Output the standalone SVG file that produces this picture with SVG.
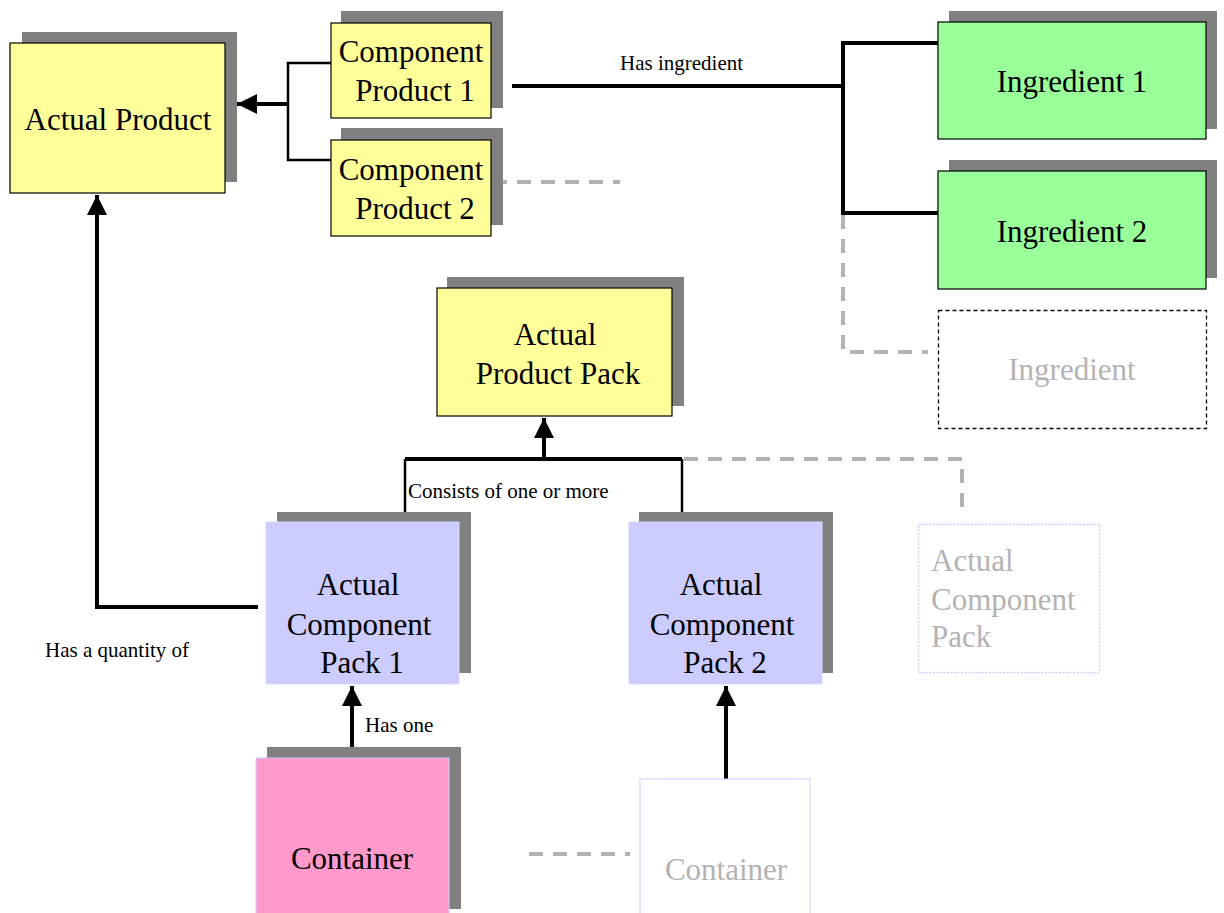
<svg xmlns="http://www.w3.org/2000/svg" width="1224" height="913" viewBox="0 0 1224 913">
  <style>
    .shadow { fill: #808080; }
    .yellow { fill: #ffff99; stroke: #000; stroke-width: 1.2; }
    .green { fill: #99ff99; stroke: #000; stroke-width: 1.2; }
    .lav { fill: #ccccff; stroke: #d8d8ff; stroke-width: 1; }
    .pink { fill: #ff99cc; stroke: #ccccff; stroke-width: 1; }
    .ghost { fill: #fff; stroke: #ccccff; stroke-width: 1; }
    .t { font-family: "Liberation Serif", "Times New Roman", serif; font-size: 31px; fill: #000; text-anchor: middle; }
    .ts { font-family: "Liberation Serif", "Times New Roman", serif; font-size: 31px; fill: #b3b3b3; text-anchor: start; }
    .tg { fill: #b3b3b3; }
    .lbl { font-family: "Liberation Serif", "Times New Roman", serif; font-size: 21px; fill: #000; }
    .thick { fill: none; stroke: #000; stroke-width: 4; }
    .thin { fill: none; stroke: #000; stroke-width: 2.5; }
    .dash { fill: none; stroke: #b3b3b3; stroke-width: 4; stroke-dasharray: 14 10; }
  </style>
  <defs>
    <marker id="arrow" viewBox="0 0 10 10" refX="10" refY="5" markerWidth="5" markerHeight="5" markerUnits="strokeWidth" orient="auto">
      <path d="M0,0 L10,5 L0,10 Z" fill="#000"/>
    </marker>
  </defs>

  <!-- connectors -->
  <g id="connectors">
    <!-- component products to actual product -->
    <path class="thin" d="M331,63 H288 V160 H331"/>
    <path class="thick" d="M288,104 H237" marker-end="url(#arrow)"/>
    <!-- has ingredient -->
    <path class="thick" d="M512,86 H843"/>
    <path class="thick" d="M938,43 H843 V213 H938"/>
    <path class="dash" d="M843,215 V352 H928"/>
    <path class="dash" d="M493,182 H620"/>
    <!-- component pack 1 to actual product -->
    <path class="thick" d="M258,607 H97 V195" marker-end="url(#arrow)"/>
    <!-- component packs to product pack -->
    <path class="thick" d="M405,459 H682"/>
    <path class="thin" d="M405,459 V512 M682,459 V512"/>
    <path class="thick" d="M544,459 V418" marker-end="url(#arrow)"/>
    <path class="dash" d="M684,459 H962 V507"/>
    <!-- containers -->
    <path class="thick" d="M352,747 V686" marker-end="url(#arrow)"/>
    <path class="thick" d="M726,779 V686" marker-end="url(#arrow)"/>
    <path class="dash" d="M529,854 H630"/>
    <!-- labels -->
    <text class="lbl" x="620" y="70">Has ingredient</text>
    <text class="lbl" x="45" y="657">Has a quantity of</text>
    <text class="lbl" x="408" y="498">Consists of one or more</text>
    <text class="lbl" x="365" y="732">Has one</text>
  </g>

  <g id="actual-product">
    <rect class="shadow" x="22" y="32" width="215" height="150"/>
    <rect class="yellow" x="10" y="43" width="215" height="150"/>
    <text class="t" x="118" y="130">Actual Product</text>
  </g>

  <g id="component-product-1">
    <rect class="shadow" x="341" y="11" width="162" height="97"/>
    <rect class="yellow" x="331" y="23" width="160" height="95"/>
    <text class="t" x="411" y="62">Component</text>
    <text class="t" x="415" y="101">Product 1</text>
  </g>

  <g id="component-product-2">
    <rect class="shadow" x="341" y="128" width="162" height="97"/>
    <rect class="yellow" x="331" y="140" width="160" height="96"/>
    <text class="t" x="411" y="180">Component</text>
    <text class="t" x="415" y="219">Product 2</text>
  </g>

  <g id="ingredient-1">
    <rect class="shadow" x="949" y="11" width="268" height="118"/>
    <rect class="green" x="938" y="22" width="268" height="117"/>
    <text class="t" x="1072" y="92">Ingredient 1</text>
  </g>

  <g id="ingredient-2">
    <rect class="shadow" x="949" y="160" width="268" height="118"/>
    <rect class="green" x="938" y="171" width="268" height="118"/>
    <text class="t" x="1072" y="242">Ingredient 2</text>
  </g>

  <g id="ingredient">
    <rect x="938.5" y="310.5" width="268" height="118" fill="#fff" stroke="#000" stroke-width="1.3" stroke-dasharray="4 3"/>
    <text class="t tg" x="1072" y="380">Ingredient</text>
  </g>

  <g id="actual-product-pack">
    <rect class="shadow" x="447" y="277" width="237" height="129"/>
    <rect class="yellow" x="437" y="288" width="235" height="128"/>
    <text class="t" x="555" y="345">Actual</text>
    <text class="t" x="558" y="384">Product Pack</text>
  </g>

  <g id="actual-component-pack-1">
    <rect class="shadow" x="277" y="512" width="194" height="161"/>
    <rect class="lav" x="266" y="522" width="193" height="162"/>
    <text class="t" x="358" y="595">Actual</text>
    <text class="t" x="359" y="635">Component</text>
    <text class="t" x="362" y="673">Pack 1</text>
  </g>

  <g id="actual-component-pack-2">
    <rect class="shadow" x="639" y="512" width="194" height="161"/>
    <rect class="lav" x="629" y="522" width="193" height="162"/>
    <text class="t" x="721" y="595">Actual</text>
    <text class="t" x="722" y="635">Component</text>
    <text class="t" x="725" y="673">Pack 2</text>
  </g>

  <g id="actual-component-pack">
    <rect x="918.5" y="524.5" width="181" height="148" fill="#fff" stroke="#ccccff" stroke-width="1.3" stroke-dasharray="2 1.5"/>
    <text class="ts" x="931" y="571">Actual</text>
    <text class="ts" x="931" y="610">Component</text>
    <text class="ts" x="931" y="647">Pack</text>
  </g>

  <g id="container">
    <rect class="shadow" x="267" y="747" width="194" height="162"/>
    <rect class="pink" x="256" y="758" width="193" height="160"/>
    <text class="t" x="352" y="869">Container</text>
  </g>

  <g id="container-ghost">
    <rect class="ghost" x="640" y="779" width="170" height="140"/>
    <text class="t tg" x="726" y="880">Container</text>
  </g>
</svg>
